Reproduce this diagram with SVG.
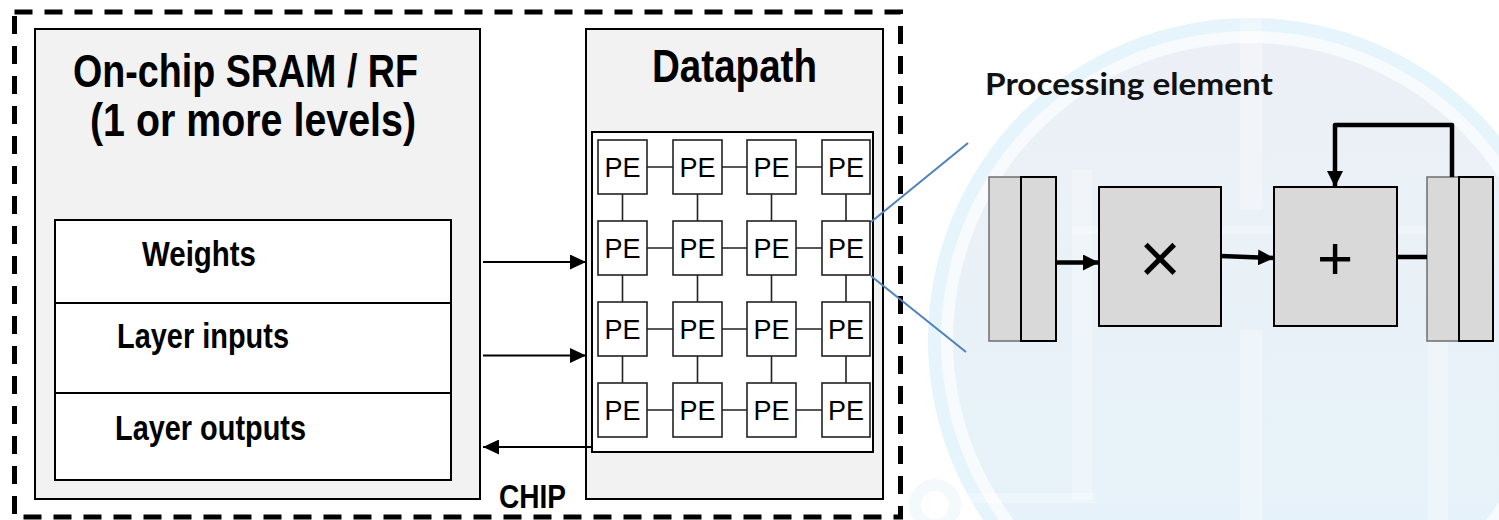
<svg xmlns="http://www.w3.org/2000/svg" width="1499" height="520" viewBox="0 0 1499 520">
  <defs>
    <linearGradient id="logoFill" x1="0" y1="0" x2="0" y2="1">
      <stop offset="0" stop-color="#ecf0f6"/>
      <stop offset="1" stop-color="#e5f3fa"/>
    </linearGradient>
    <marker id="arrowThin" markerUnits="userSpaceOnUse" markerWidth="16" markerHeight="15" refX="16" refY="7.5" orient="auto">
      <path d="M0,0 L16,7.5 L0,15 Z" fill="#000"/>
    </marker>
    <marker id="arrowBold" markerUnits="userSpaceOnUse" markerWidth="16" markerHeight="16" refX="16" refY="8" orient="auto">
      <path d="M0,0 L16,8 L0,16 Z" fill="#000"/>
    </marker>
    <style>
      .chip { fill: none; stroke: #000; stroke-width: 5; stroke-dasharray: 18 12; }
      .panel { fill: #f2f2f2; stroke: #000; stroke-width: 2; }
      .cell { fill: #fff; stroke: #000; stroke-width: 2; }
      .pe { fill: #fff; stroke: #222; stroke-width: 1.6; }
      .link { stroke: #222; stroke-width: 1.6; fill: none; }
      .head { font-family: "Liberation Sans Narrow", "Liberation Sans", Arial, sans-serif; font-weight: bold; fill: #000; }
      .pelabel { font-family: "Liberation Sans", Arial, sans-serif; font-size: 27px; fill: #000; text-anchor: middle; }
      .flow { stroke: #000; stroke-width: 2; fill: none; }
      .zoomline { stroke: #4f81bd; stroke-width: 2; fill: none; }
      .unit { fill: #d9d9d9; stroke: #000; stroke-width: 2; }
      .unitsoft { fill: #d9d9d9; stroke: #6e6e6e; stroke-width: 1.5; }
      .wire { stroke: #000; stroke-width: 4.5; fill: none; }
      .op { font-family: "Liberation Sans", Arial, sans-serif; fill: #000; text-anchor: middle; }
      .caption { font-family: Lato, "Open Sans", "Liberation Sans", sans-serif; font-weight: bold; font-size: 31px; fill: #111; }
      .band { fill: #ffffff; opacity: 0.3; }
    </style>
  </defs>

  <rect width="1499" height="520" fill="#fff"/>

  <!-- faint background emblem -->
  <g id="emblem">
    <circle cx="1250" cy="340" r="322" fill="#e6f4fb"/>
    <circle cx="1250" cy="340" r="309" fill="#f8fbfd"/>
    <circle cx="1250" cy="340" r="297" fill="url(#logoFill)"/>
    <rect class="band" x="1240" y="0" width="22" height="210"/>
    <rect class="band" x="1072" y="170" width="20" height="330"/>
    <rect class="band" x="1240" y="330" width="22" height="190"/>
    <rect class="band" x="1428" y="300" width="20" height="220"/>
    <rect class="band" x="1072" y="226" width="360" height="8"/>
    <rect class="band" x="935" y="493" width="160" height="10"/>
    <circle cx="935" cy="505" r="20" fill="none" stroke="#f4f9fc" stroke-width="12"/>
  </g>

  <!-- chip boundary -->
  <rect id="chip-boundary" class="chip" x="14.5" y="12" width="886" height="505"/>
  <text id="chip-label" class="head" x="499" y="508" font-size="33" textLength="67" lengthAdjust="spacingAndGlyphs">CHIP</text>

  <!-- on-chip memory -->
  <g id="sram">
    <rect class="panel" x="35" y="29" width="445" height="470"/>
    <text class="head" x="73" y="87" font-size="46" textLength="345" lengthAdjust="spacingAndGlyphs">On-chip SRAM / RF</text>
    <text class="head" x="90" y="136" font-size="46" textLength="326" lengthAdjust="spacingAndGlyphs">(1 or more levels)</text>
  </g>
  <g id="weights">
    <rect class="cell" x="55" y="220" width="396" height="83"/>
    <text class="head" x="142" y="266" font-size="35" textLength="114" lengthAdjust="spacingAndGlyphs">Weights</text>
  </g>
  <g id="layer-inputs">
    <rect class="cell" x="55" y="303" width="396" height="90"/>
    <text class="head" x="117" y="348" font-size="35" textLength="172" lengthAdjust="spacingAndGlyphs">Layer inputs</text>
  </g>
  <g id="layer-outputs">
    <rect class="cell" x="55" y="393" width="396" height="87"/>
    <text class="head" x="115" y="440" font-size="35" textLength="191" lengthAdjust="spacingAndGlyphs">Layer outputs</text>
  </g>

  <!-- datapath with PE array -->
  <g id="datapath">
    <rect class="panel" x="586" y="29" width="297" height="470"/>
    <text class="head" x="652" y="82" font-size="47" textLength="165" lengthAdjust="spacingAndGlyphs">Datapath</text>
    <rect class="cell" x="592" y="132" width="281" height="320"/>
  </g>

  <g id="pe-array">
    <!-- mesh links -->
    <g class="link">
      <path d="M647,167 H673 M722,167 H747 M796,167 H822"/>
      <path d="M647,248 H673 M722,248 H747 M796,248 H822"/>
      <path d="M647,329 H673 M722,329 H747 M796,329 H822"/>
      <path d="M647,410 H673 M722,410 H747 M796,410 H822"/>
      <path d="M622.5,194 V221 M697.5,194 V221 M771.5,194 V221 M846,194 V221"/>
      <path d="M622.5,275 V302 M697.5,275 V302 M771.5,275 V302 M846,275 V302"/>
      <path d="M622.5,356 V383 M697.5,356 V383 M771.5,356 V383 M846,356 V383"/>
    </g>
    <g id="pe-r1">
      <rect class="pe" x="598" y="140" width="49" height="54"/><text class="pelabel" x="622.5" y="177">PE</text>
      <rect class="pe" x="673" y="140" width="49" height="54"/><text class="pelabel" x="697.5" y="177">PE</text>
      <rect class="pe" x="747" y="140" width="49" height="54"/><text class="pelabel" x="771.5" y="177">PE</text>
      <rect class="pe" x="822" y="140" width="48" height="54"/><text class="pelabel" x="846" y="177">PE</text>
    </g>
    <g id="pe-r2">
      <rect class="pe" x="598" y="221" width="49" height="54"/><text class="pelabel" x="622.5" y="258">PE</text>
      <rect class="pe" x="673" y="221" width="49" height="54"/><text class="pelabel" x="697.5" y="258">PE</text>
      <rect class="pe" x="747" y="221" width="49" height="54"/><text class="pelabel" x="771.5" y="258">PE</text>
      <rect class="pe" x="822" y="221" width="48" height="54"/><text class="pelabel" x="846" y="258">PE</text>
    </g>
    <g id="pe-r3">
      <rect class="pe" x="598" y="302" width="49" height="54"/><text class="pelabel" x="622.5" y="339">PE</text>
      <rect class="pe" x="673" y="302" width="49" height="54"/><text class="pelabel" x="697.5" y="339">PE</text>
      <rect class="pe" x="747" y="302" width="49" height="54"/><text class="pelabel" x="771.5" y="339">PE</text>
      <rect class="pe" x="822" y="302" width="48" height="54"/><text class="pelabel" x="846" y="339">PE</text>
    </g>
    <g id="pe-r4">
      <rect class="pe" x="598" y="383" width="49" height="54"/><text class="pelabel" x="622.5" y="420">PE</text>
      <rect class="pe" x="673" y="383" width="49" height="54"/><text class="pelabel" x="697.5" y="420">PE</text>
      <rect class="pe" x="747" y="383" width="49" height="54"/><text class="pelabel" x="771.5" y="420">PE</text>
      <rect class="pe" x="822" y="383" width="48" height="54"/><text class="pelabel" x="846" y="420">PE</text>
    </g>
  </g>

  <!-- processing element detail -->
  <g id="pe-detail">
    <text class="caption" x="985" y="95" textLength="288" lengthAdjust="spacingAndGlyphs">Processing element</text>
    <g id="reg-in">
      <rect class="unitsoft" x="989" y="177" width="32" height="164"/>
      <rect class="unit" x="1021" y="177" width="35" height="164"/>
    </g>
    <g id="multiplier">
      <rect class="unit" x="1099" y="187" width="122" height="139"/>
      <text class="op" x="1160" y="283" font-size="72">×</text>
    </g>
    <g id="adder">
      <rect class="unit" x="1274" y="187" width="123" height="139"/>
      <text class="op" x="1335" y="279" font-size="62">+</text>
    </g>
    <g id="reg-out">
      <rect class="unitsoft" x="1427" y="177" width="32" height="164"/>
      <rect class="unit" x="1459" y="177" width="34" height="164"/>
    </g>
  </g>

  <!-- connectors -->
  <g id="connectors">
    <line class="flow" x1="483" y1="262" x2="586" y2="262" marker-end="url(#arrowThin)"/>
    <line class="flow" x1="483" y1="355.5" x2="586" y2="355.5" marker-end="url(#arrowThin)"/>
    <line class="flow" x1="593" y1="447" x2="483" y2="447" marker-end="url(#arrowThin)"/>
    <line class="zoomline" x1="871" y1="222" x2="968" y2="143"/>
    <line class="zoomline" x1="871" y1="276" x2="966" y2="352"/>
    <line class="wire" x1="1056" y1="262.5" x2="1099" y2="262.5" marker-end="url(#arrowBold)"/>
    <line class="wire" x1="1221" y1="256" x2="1274" y2="258" marker-end="url(#arrowBold)"/>
    <line class="wire" x1="1397" y1="257" x2="1427" y2="257"/>
    <path class="wire" d="M1452,177 V125 H1335 V187" stroke-linejoin="round" marker-end="url(#arrowBold)"/>
  </g>
</svg>
